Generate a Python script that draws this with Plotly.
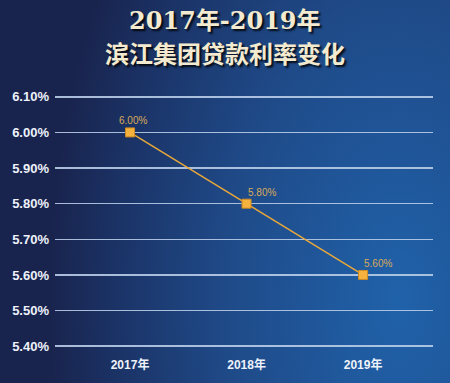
import base64
import plotly.graph_objects as go

years = ["2017年", "2018年", "2019年"]
rates = [6.00, 5.80, 5.60]
rate_labels = ["6.00%", "5.80%", "5.60%"]
y_ticks = [5.40, 5.50, 5.60, 5.70, 5.80, 5.90, 6.00, 6.10]
y_tick_labels = ["5.40%", "5.50%", "5.60%", "5.70%", "5.80%", "5.90%", "6.00%", "6.10%"]
title_line1 = "2017年-2019年"
title_line2 = "滨江集团贷款利率变化"

W, H = 450, 383
ML, MR, MT, MB = 55, 17, 95, 35
pw, ph = W - ML - MR, H - MT - MB

svg = f'''<svg xmlns="http://www.w3.org/2000/svg" width="{W}" height="{H}" viewBox="0 0 {W} {H}">
<defs><radialGradient id="g" gradientUnits="userSpaceOnUse" cx="0" cy="0" r="1" gradientTransform="translate(400 300) scale(350 600)">
<stop offset="0" stop-color="#2062aa"/><stop offset="0.5" stop-color="#1f4a88"/>
<stop offset="0.8" stop-color="#1b3468"/><stop offset="1" stop-color="#19244e"/>
</radialGradient></defs>
<rect x="0" y="0" width="{W}" height="{H}" fill="url(#g)"/></svg>'''
src = "data:image/svg+xml;base64," + base64.b64encode(svg.encode()).decode()

fig = go.Figure()
fig.add_trace(go.Scatter(
    x=years, y=rates, mode="lines+markers",
    line=dict(color="#e9a83a", width=1.5),
    marker=dict(symbol="square", size=9, color="#f6b23e", line=dict(color="#d08a20", width=1)),
    hoverinfo="skip",
))

label_font = dict(family="Liberation Sans, Arial", size=10, color="#d8aa58")
annotations = []
for i, (yr, r, lab) in enumerate(zip(years, rates, rate_labels)):
    annotations.append(dict(
        x=yr, y=r, text=lab, showarrow=False, font=label_font,
        xanchor="center" if i == 0 else "left", yanchor="middle",
        xshift=3 if i == 0 else -1, yshift=12 if i == 0 else 11,
    ))

annotations += [
    dict(text=title_line1, xref="paper", yref="paper", x=0.5 * W / pw - ML / pw,
         y=1 + (MT - 21) / ph, xanchor="center", yanchor="middle", showarrow=False,
         font=dict(family="DejaVu Serif, Noto Sans CJK SC", size=24, color="#f3ead0", weight="bold",
                   shadow="2px 2px 2px rgba(0,0,0,0.85)")),
    dict(text=title_line2, xref="paper", yref="paper", x=0.5 * W / pw - ML / pw,
         y=1 + (MT - 52) / ph, xanchor="center", yanchor="middle", showarrow=False,
         font=dict(family="Noto Sans CJK SC", size=24, color="#f3ead0", weight="bold",
                   shadow="2px 2px 2px rgba(0,0,0,0.85)")),
]

fig.update_layout(
    width=W, height=H,
    margin=dict(l=ML, r=MR, t=MT, b=MB),
    paper_bgcolor="#1b3468", plot_bgcolor="rgba(0,0,0,0)",
    showlegend=False,
    images=[dict(source=src, xref="paper", yref="paper",
                 x=-ML / pw, y=1 + MT / ph, sizex=W / pw, sizey=H / ph,
                 xanchor="left", yanchor="top", sizing="stretch", layer="below")],
    xaxis=dict(range=[-0.644, 2.6], showgrid=False, zeroline=False, showline=False,
               tickfont=dict(family="Liberation Sans, Noto Sans CJK SC", size=12, color="#eef2fa", weight="bold"),
               ticklabelstandoff=8, fixedrange=True),
    yaxis=dict(range=[5.395, 6.105], tickvals=y_ticks, ticktext=y_tick_labels,
               showgrid=True, gridcolor="rgba(185,205,232,0.9)", gridwidth=1.5,
               zeroline=False, showline=False,
               tickfont=dict(family="Liberation Sans, Arial", size=13, color="#eef2fa", weight="bold"),
               ticklabelstandoff=5, fixedrange=True),
    annotations=annotations,
)

fig.write_html("out.html", config={"displayModeBar": False, "staticPlot": True},
               post_script="document.body.style.margin='0';document.body.style.overflow='hidden';")
